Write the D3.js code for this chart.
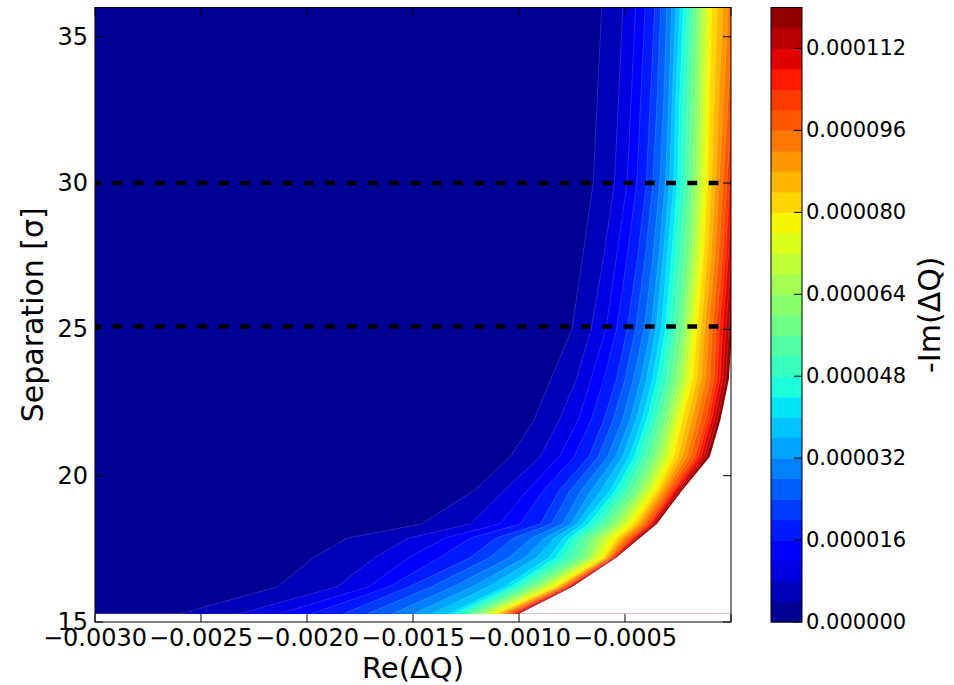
<!DOCTYPE html>
<html>
<head>
<meta charset="utf-8">
<script src="https://cdn.jsdelivr.net/npm/d3@7"></script>
<style>
  body { margin: 0; background: #fff; }
  svg { display: block; }
  text { font-family: "DejaVu Sans", sans-serif; fill: #000; }
</style>
</head>
<body>
<svg id="chart" width="954" height="685"></svg>
<script>
// Separation rows [σ] of the scan
const separations = [15.28, 16.2, 17.2, 17.87, 18.35, 19.5, 20.65, 21.9, 23.3, 25, 27.5, 30, 33, 36];

// -Im(ΔQ) values at which each row is tabulated
const imLevels = [0.000004, 0.000008, 0.000012, 0.00002, 0.00003, 0.00004, 0.00006, 0.00008, 0.0001, 0.00012];

// Re(ΔQ) where -Im(ΔQ) reaches each entry of imLevels, one row per separation
const reCrossings = [
  [-0.00260, -0.00232, -0.00213, -0.00183, -0.00154, -0.00133, -0.00120, -0.00111, -0.00104, -0.00100],
  [-0.00214, -0.00186, -0.00171, -0.00152, -0.00126, -0.00107, -0.00093, -0.00083, -0.00078, -0.00075],
  [-0.00197, -0.00168, -0.00152, -0.00123, -0.00100, -0.00086, -0.00069, -0.00060, -0.00056, -0.00054],
  [-0.00181, -0.00152, -0.00135, -0.00111, -0.00090, -0.00079, -0.00065, -0.00054, -0.00047, -0.00043],
  [-0.00146, -0.00123, -0.00109, -0.00090, -0.00077, -0.00070, -0.00056, -0.00046, -0.00039, -0.00035],
  [-0.00121, -0.00107, -0.00096, -0.00081, -0.00068, -0.00057, -0.00044, -0.00035, -0.00028, -0.00023],
  [-0.00104, -0.00090, -0.00081, -0.00067, -0.00056, -0.00048, -0.00036, -0.00027, -0.00017, -0.00010],
  [-0.00093, -0.00081, -0.00072, -0.00060, -0.00049, -0.00042, -0.00031, -0.00023, -0.00012, -0.00005],
  [-0.00085, -0.00073, -0.00066, -0.00054, -0.00044, -0.00037, -0.00026, -0.00018, -0.00008, -0.00001],
  [-0.00075, -0.00066, -0.00059, -0.00049, -0.00039, -0.00033, -0.00023, -0.00016, -0.00007, 0.000005],
  [-0.00070, -0.00060, -0.00054, -0.00044, -0.00035, -0.00030, -0.00020, -0.00013, -0.00004, 0.00003],
  [-0.00065, -0.00055, -0.00049, -0.00040, -0.00032, -0.00027, -0.00018, -0.00011, -0.00002, 0.00005],
  [-0.00063, -0.00053, -0.00047, -0.00038, -0.00030, -0.00026, -0.00017, -0.00010, 0.00001, 0.00009],
  [-0.00061, -0.00051, -0.00045, -0.00036, -0.00029, -0.00024, -0.00016, -0.00009, 0.00004, 0.00014]
];

// Filled-contour levels: 30 bands of 4e-6 from 0 to 1.2e-4
const contourLevels = d3.range(31).map(i => i * 0.000004);

// Reference separations marked with dashed lines
const markedSeparations = [30, 25.1];

// Axis ticks
const xTicks = [-0.003, -0.0025, -0.002, -0.0015, -0.001, -0.0005];
const yTicks = [15, 20, 25, 30, 35];
const cbarTicks = [0, 0.000016, 0.000032, 0.000048, 0.000064, 0.00008, 0.000096, 0.000112];

// ---- colour map (jet) ----
function seg(stops, t) {
  for (let i = 1; i < stops.length; i++) {
    if (t <= stops[i][0]) {
      const [t0, v0] = stops[i - 1], [t1, v1] = stops[i];
      return v0 + (v1 - v0) * (t - t0) / (t1 - t0);
    }
  }
  return stops[stops.length - 1][1];
}
function jet(t) {
  const r = seg([[0, 0], [0.35, 0], [0.66, 1], [0.89, 1], [1, 0.5]], t);
  const g = seg([[0, 0], [0.125, 0], [0.375, 1], [0.64, 1], [0.91, 0], [1, 0]], t);
  const b = seg([[0, 0.5], [0.11, 1], [0.34, 1], [0.65, 0], [1, 0]], t);
  return d3.rgb(r * 255, g * 255, b * 255).formatHex();
}
const nBands = contourLevels.length - 1;
const bandColor = i => jet((i + 0.5) / nBands);

// ---- layout ----
const plot = { left: 95, right: 731, top: 7.5, bottom: 622 };
const cbar = { left: 771, right: 802, top: 7.5, bottom: 622 };

const x = d3.scaleLinear().domain([-0.003, 0]).range([plot.left, plot.right]);
const y = d3.scaleLinear().domain([15, 36]).range([plot.bottom, plot.top]);
const c = d3.scaleLinear().domain([0, 0.00012]).range([cbar.bottom, cbar.top]);

const svg = d3.select("#chart");

svg.append("defs").append("clipPath").attr("id", "plotClip")
  .append("rect")
  .attr("x", plot.left).attr("y", plot.top)
  .attr("width", plot.right - plot.left).attr("height", plot.bottom - plot.top);

// Re(ΔQ) at which a row reaches the value t
function crossing(row, t) {
  const xs = reCrossings[row];
  let i = d3.bisectRight(imLevels, t) - 1;
  i = Math.max(0, Math.min(imLevels.length - 2, i));
  const f = (t - imLevels[i]) / (imLevels[i + 1] - imLevels[i]);
  return xs[i] + f * (xs[i + 1] - xs[i]);
}

const field = svg.append("g").attr("clip-path", "url(#plotClip)");
const sMin = separations[0], sMax = separations[separations.length - 1];

// lowest band covers the whole scanned region
field.append("rect")
  .attr("x", x(-0.003)).attr("y", y(sMax))
  .attr("width", x(0.0005) - x(-0.003)).attr("height", y(sMin) - y(sMax))
  .attr("fill", bandColor(0));

const line = d3.line().x(d => x(d[0])).y(d => y(d[1]));

// each level: the region to the right of its boundary, painted in order
for (let k = 1; k < contourLevels.length; k++) {
  const t = contourLevels[k];
  const edge = separations.map((s, j) => [crossing(j, t), s]);
  const poly = edge.concat([[0.001, sMax], [0.001, sMin]]);
  field.append("path")
    .attr("d", line(poly) + "Z")
    .attr("fill", k < nBands ? bandColor(k) : "#fff")
    .attr("stroke", "none");
}
// faint seams along the band boundaries
for (let k = 1; k < nBands; k++) {
  const t = contourLevels[k];
  const edge = separations.map((s, j) => [crossing(j, t), s]);
  field.append("path")
    .attr("d", line(edge))
    .attr("fill", "none")
    .attr("stroke", "#fff")
    .attr("stroke-opacity", 0.22)
    .attr("stroke-width", 0.7);
}

// dashed reference lines
field.selectAll("line.mark").data(markedSeparations).join("line")
  .attr("class", "mark")
  .attr("x1", plot.left).attr("x2", plot.right)
  .attr("y1", d => y(d)).attr("y2", d => y(d))
  .attr("stroke", "#000").attr("stroke-width", 4.5)
  .attr("stroke-dasharray", "9.8,11.5")
  .attr("stroke-dashoffset", 4);

// ---- axes frame and ticks ----
const frame = svg.append("g");
frame.append("rect")
  .attr("x", plot.left).attr("y", plot.top)
  .attr("width", plot.right - plot.left).attr("height", plot.bottom - plot.top)
  .attr("fill", "none").attr("stroke", "#000").attr("stroke-width", 1);

const tl = 8;
xTicks.concat([0]).forEach(v => {
  frame.append("line").attr("x1", x(v)).attr("x2", x(v)).attr("y1", plot.bottom).attr("y2", plot.bottom - tl).attr("stroke", "#000");
  frame.append("line").attr("x1", x(v)).attr("x2", x(v)).attr("y1", plot.top).attr("y2", plot.top + tl).attr("stroke", "#000");
});
yTicks.forEach(v => {
  frame.append("line").attr("x1", plot.left).attr("x2", plot.left + tl).attr("y1", y(v)).attr("y2", y(v)).attr("stroke", "#000");
  frame.append("line").attr("x1", plot.right).attr("x2", plot.right - tl).attr("y1", y(v)).attr("y2", y(v)).attr("stroke", "#000");
});

const fmtX = d => d3.format(".4f")(d).replace("-", "\u2212");
svg.append("g").selectAll("text").data(xTicks).join("text")
  .attr("x", d => x(d)).attr("y", 646)
  .attr("text-anchor", "middle")
  .style("font-size", "24px")
  .text(fmtX);

svg.append("g").selectAll("text").data(yTicks).join("text")
  .attr("x", 88).attr("y", d => y(d))
  .attr("text-anchor", "end").attr("dominant-baseline", "central")
  .style("font-size", "24px")
  .text(d => d);

svg.append("text")
  .attr("transform", `translate(43,${(plot.top + plot.bottom) / 2}) rotate(-90)`)
  .attr("text-anchor", "middle")
  .style("font-size", "30px")
  .text("Separation [σ]");

svg.append("text")
  .attr("x", (plot.left + plot.right) / 2).attr("y", 678)
  .attr("text-anchor", "middle")
  .style("font-size", "29px")
  .text("Re(ΔQ)");

// ---- colour bar ----
const cb = svg.append("g");
cb.selectAll("rect.band").data(d3.range(nBands)).join("rect")
  .attr("class", "band")
  .attr("x", cbar.left).attr("width", cbar.right - cbar.left)
  .attr("y", i => c(contourLevels[i + 1]))
  .attr("height", i => c(contourLevels[i]) - c(contourLevels[i + 1]) + 0.5)
  .attr("fill", i => bandColor(i));
cb.append("rect")
  .attr("x", cbar.left).attr("y", cbar.top)
  .attr("width", cbar.right - cbar.left).attr("height", cbar.bottom - cbar.top)
  .attr("fill", "none").attr("stroke", "#000").attr("stroke-width", 1);
cbarTicks.forEach(v => {
  cb.append("line").attr("x1", cbar.right).attr("x2", cbar.right - tl)
    .attr("y1", c(v)).attr("y2", c(v)).attr("stroke", "#000");
});
cb.selectAll("text.tick").data(cbarTicks).join("text")
  .attr("class", "tick")
  .attr("x", cbar.right + 4).attr("y", d => c(d))
  .attr("dominant-baseline", "central")
  .style("font-size", "21px")
  .text(d => d3.format(".6f")(d));

svg.append("text")
  .attr("transform", `translate(940,${(cbar.top + cbar.bottom) / 2}) rotate(-90)`)
  .attr("text-anchor", "middle")
  .style("font-size", "30px")
  .text("-Im(ΔQ)");
</script>
</body>
</html>
